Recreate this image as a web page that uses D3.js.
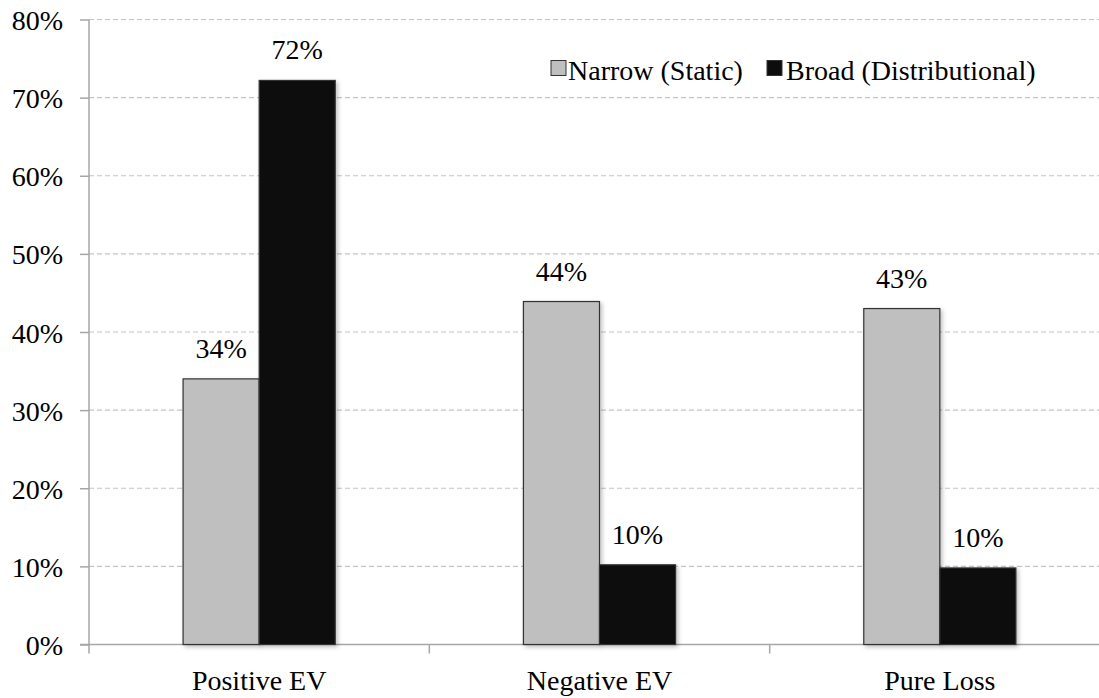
<!DOCTYPE html>
<html>
<head>
<meta charset="utf-8">
<script src="https://cdn.jsdelivr.net/npm/d3@7"></script>
<style>
  html, body { margin: 0; padding: 0; background: #fff; }
  svg { display: block; }
  svg text { font-family: "Liberation Serif", "Times New Roman", Times, "DejaVu Serif", serif !important; fill: #000; }
</style>
</head>
<body>
<svg id="chart" width="1099" height="698"></svg>
<script>
const categories = ["Positive EV", "Negative EV", "Pure Loss"];
const seriesNames = ["Narrow (Static)", "Broad (Distributional)"];
const narrowValues = [0.340, 0.439, 0.430];
const broadValues = [0.722, 0.102, 0.098];
const narrowLabels = ["34%", "44%", "43%"];
const broadLabels = ["72%", "10%", "10%"];
const yTicks = [0, 0.1, 0.2, 0.3, 0.4, 0.5, 0.6, 0.7, 0.8];
const seriesColors = ["#bfbfbf", "#0d0d0d"];

(function () {
const svg = d3.select("#chart");
const plotLeft = 89, plotRight = 1110, plotTop = 19.5, plotBottom = 644.5;
const fontSize = 28;

const x0 = d3.scaleBand().domain(categories).range([plotLeft, plotRight]).paddingInner(0).paddingOuter(0);
const x1 = d3.scaleBand().domain(seriesNames).range([0, x0.bandwidth()]).paddingInner(0).paddingOuter(1.237);
const y = d3.scaleLinear().domain([0, 0.8]).range([plotBottom, plotTop]);

const defs = svg.append("defs");
const f = defs.append("filter").attr("id", "shadow").attr("x", "-20%").attr("y", "-20%").attr("width", "140%").attr("height", "140%");
f.append("feDropShadow").attr("dx", 2).attr("dy", 2).attr("stdDeviation", 2).attr("flood-color", "#000").attr("flood-opacity", 0.25);

// gridlines
svg.append("g").selectAll("line").data(yTicks.filter(d => d > 0)).join("line")
  .attr("x1", plotLeft).attr("x2", 1099)
  .attr("y1", d => y(d)).attr("y2", d => y(d))
  .attr("stroke", "#c4c4c4").attr("stroke-width", 1.2)
  .attr("stroke-dasharray", "5,3");

// y axis
const yAxis = d3.axisLeft(y).tickValues(yTicks).tickFormat(d3.format(".0%")).tickSize(9).tickPadding(17);
const gy = svg.append("g").attr("transform", `translate(${plotLeft},0)`).call(yAxis);
gy.attr("font-family", null);
gy.select(".domain").attr("stroke", "#a6a6a6").attr("stroke-width", 1.5).attr("d", `M0,${plotTop}V${plotBottom}`);
gy.selectAll(".tick line").attr("stroke", "#a6a6a6").attr("stroke-width", 1.5);
gy.selectAll(".tick text").attr("font-size", fontSize).attr("fill", "#000").attr("dy", "0.36em");

// x axis
const xAxis = d3.axisBottom(x0).tickSize(0).tickPadding(0);
const gx = svg.append("g").attr("transform", `translate(0,${plotBottom})`).call(xAxis);
gx.attr("font-family", null);
gx.select(".domain").attr("stroke", "#a6a6a6").attr("stroke-width", 1.5).attr("d", `M${plotLeft - 9},0H1099`);
gx.selectAll(".tick text").attr("font-size", fontSize).attr("fill", "#000").attr("y", 45).attr("dy", 0);
const boundaries = categories.map(c => x0(c)).concat([x0(categories[2]) + x0.bandwidth()]);
gx.selectAll(".bt").data(boundaries).join("line").attr("class", "bt")
  .attr("x1", d => d).attr("x2", d => d).attr("y1", 0).attr("y2", 9)
  .attr("stroke", "#a6a6a6").attr("stroke-width", 1.5);

// bars
const rows = categories.map((c, i) => ({
  cat: c,
  vals: [
    {s: seriesNames[0], v: narrowValues[i], label: narrowLabels[i], color: seriesColors[0]},
    {s: seriesNames[1], v: broadValues[i], label: broadLabels[i], color: seriesColors[1]}
  ]
}));

const groups = svg.append("g").selectAll("g").data(rows).join("g")
  .attr("transform", d => `translate(${x0(d.cat)},0)`);

groups.selectAll("rect").data(d => d.vals).join("rect")
  .attr("x", d => x1(d.s)).attr("width", x1.bandwidth())
  .attr("y", d => y(d.v)).attr("height", d => plotBottom - y(d.v))
  .attr("fill", d => d.color)
  .attr("stroke", "#333").attr("stroke-width", 1.2)
  .attr("filter", "url(#shadow)");

groups.selectAll("text.val").data(d => d.vals).join("text").attr("class", "val")
  .attr("x", d => x1(d.s) + x1.bandwidth() / 2)
  .attr("y", d => y(d.v) - 21)
  .attr("text-anchor", "middle")
  .attr("font-size", fontSize)
  .text(d => d.label);

// legend
const legend = svg.append("g");
const legendItems = [
  {name: seriesNames[0], color: seriesColors[0], sx: 551, tx: 568},
  {name: seriesNames[1], color: seriesColors[1], sx: 767, tx: 786}
];
legend.selectAll("rect").data(legendItems).join("rect")
  .attr("x", d => d.sx).attr("y", 60.5).attr("width", 15).attr("height", 15)
  .attr("fill", d => d.color).attr("stroke", "#333").attr("stroke-width", 1);
legend.selectAll("text").data(legendItems).join("text")
  .attr("x", d => d.tx).attr("y", 80)
  .attr("font-size", fontSize)
  .text(d => d.name);
})();
</script>
</body>
</html>
